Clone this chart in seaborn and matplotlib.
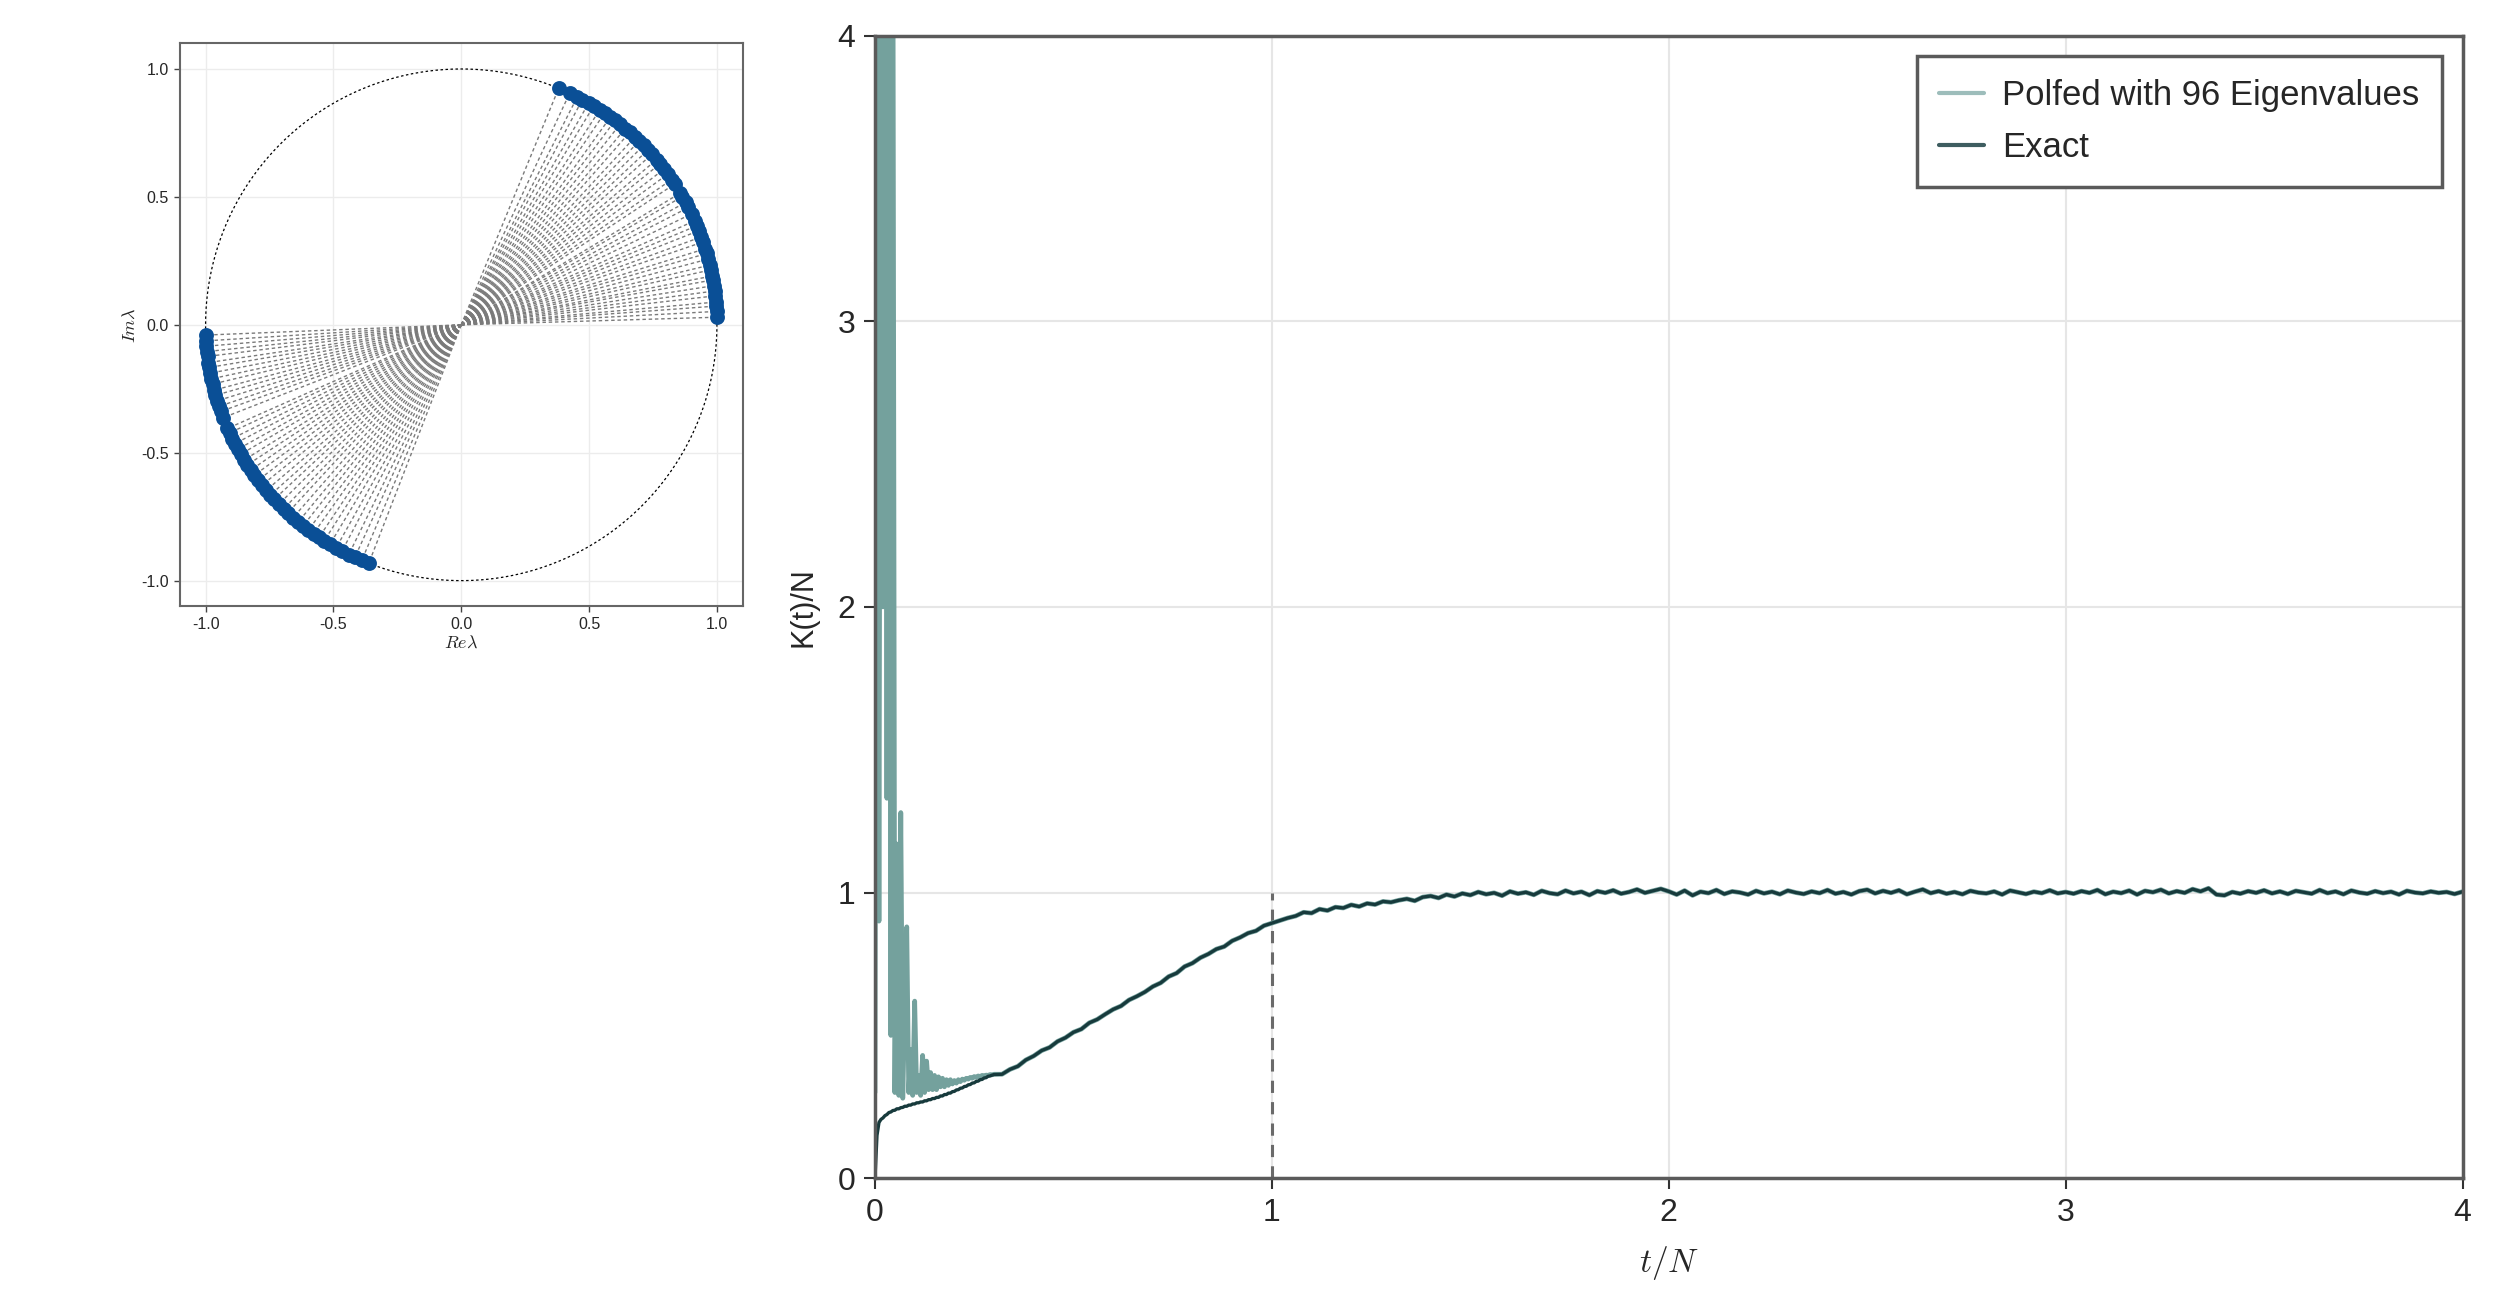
import numpy as np
import pandas as pd
import seaborn as sns
import matplotlib.pyplot as plt

# eigenvalue phases (degrees)
upper_angles = [1.7, 3.0, 4.2, 5.1, 6.5, 7.6, 8.8, 10.1, 11.0, 12.4, 13.5, 14.9,
                16.2, 17.3, 18.9, 20.1, 21.6, 22.8, 24.0, 25.7, 27.3, 28.6, 30.1, 31.0,
                33.4, 34.6, 36.1, 37.5, 39.0, 40.2, 41.8, 43.1, 44.5, 45.9, 47.2, 48.8,
                50.1, 51.6, 53.0, 54.3, 55.9, 57.2, 58.8, 60.1, 61.7, 63.0, 64.9, 67.6]
lower_angles = [182.3, 183.6, 184.8, 186.0, 187.1, 188.5, 189.6, 190.9, 192.2, 193.4,
                194.8, 196.0, 197.3, 198.6, 199.8, 201.3, 203.9, 205.0, 206.4, 207.7,
                209.1, 210.4, 211.9, 213.2, 214.6, 216.0, 217.4, 218.8, 220.3, 221.7,
                223.0, 224.5, 226.0, 227.3, 228.9, 230.4, 231.8, 233.3, 234.7, 236.2,
                237.6, 239.1, 240.7, 242.2, 243.9, 245.4, 247.1, 248.8]

# K(t)/N, early part sampled every 0.005 on t/N in [0, 0.3]
early_range = (0.0, 0.3)
polfed_early = [0.30, 4.60, 0.90, 4.60, 2.00, 4.60, 1.33, 4.60, 0.50, 4.60,
                0.30, 1.17, 0.29, 1.28, 0.28, 0.60, 0.88, 0.30, 0.45, 0.29,
                0.62, 0.30, 0.36, 0.29, 0.43, 0.30, 0.41, 0.31, 0.37, 0.31,
                0.36, 0.31, 0.355, 0.32, 0.35, 0.32, 0.345, 0.325, 0.345, 0.33,
                0.342, 0.333, 0.345, 0.338, 0.347, 0.343, 0.350, 0.347, 0.353, 0.350,
                0.356, 0.353, 0.358, 0.356, 0.360, 0.358, 0.361, 0.360, 0.363, 0.362,
                0.364]
exact_early = [0.000, 0.150, 0.195, 0.206, 0.211, 0.219, 0.223, 0.230, 0.232, 0.237,
               0.238, 0.243, 0.243, 0.247, 0.248, 0.252, 0.252, 0.256, 0.256, 0.260,
               0.260, 0.264, 0.264, 0.267, 0.267, 0.271, 0.271, 0.275, 0.275, 0.279,
               0.279, 0.283, 0.283, 0.288, 0.288, 0.293, 0.293, 0.298, 0.298, 0.303,
               0.304, 0.309, 0.310, 0.315, 0.316, 0.321, 0.322, 0.327, 0.328, 0.333,
               0.334, 0.339, 0.340, 0.345, 0.346, 0.351, 0.352, 0.357, 0.358, 0.361,
               0.363]

# later part, sampled every 0.02 on t/N in [0.32, 4]
tail_range = (0.32, 4.0)
k_tail = [0.364, 0.381, 0.392, 0.414, 0.428, 0.447, 0.458, 0.479, 0.492, 0.511,
          0.522, 0.544, 0.556, 0.574, 0.591, 0.603, 0.624, 0.637, 0.652, 0.671,
          0.684, 0.706, 0.718, 0.741, 0.753, 0.772, 0.785, 0.802, 0.811, 0.831,
          0.843, 0.858, 0.866, 0.884, 0.893, 0.902, 0.911, 0.918, 0.931, 0.928,
          0.942, 0.937, 0.949, 0.946, 0.957, 0.951, 0.962, 0.958, 0.969, 0.966,
          0.973, 0.978, 0.971, 0.984, 0.988, 0.981, 0.993, 0.986, 0.997, 0.991,
          1.002, 0.994, 0.999, 0.989, 1.004, 0.996, 1.001, 0.992, 1.006, 0.998,
          0.994, 1.007, 0.997, 1.003, 0.991, 1.005, 0.999, 1.008, 0.996, 1.002,
          1.011, 0.999, 1.006, 1.013, 1.004, 0.993, 1.007, 0.990, 1.003, 0.998,
          1.009, 0.995, 1.004, 1.000, 0.993, 1.006, 0.997, 1.003, 0.994, 1.007,
          1.000, 0.995, 1.004, 0.998, 1.009, 0.996, 1.002, 0.993, 1.005, 1.010,
          0.997, 1.006, 0.999, 1.008, 0.994, 1.003, 1.011, 0.998, 1.005, 0.996,
          1.002, 0.994, 1.006, 1.000, 0.997, 1.004, 0.993, 1.007, 1.001, 0.995,
          1.003, 0.998, 1.008, 0.997, 1.002, 0.996, 1.005, 0.999, 1.009, 0.994,
          1.003, 0.998, 1.007, 0.993, 1.006, 1.001, 1.010, 0.997, 1.005, 0.999,
          1.012, 1.004, 1.015, 0.993, 0.990, 1.002, 0.996, 1.005, 0.999, 1.008,
          0.997, 1.004, 0.995, 1.006, 1.001, 0.996, 1.009, 0.998, 1.004, 0.994,
          1.007, 1.000, 0.996, 1.005, 0.998, 1.003, 0.993, 1.006, 1.000, 0.997,
          1.004, 0.999, 1.002, 0.995, 1.003]

t_marker = 1.0  # dashed guide at t/N = 1
labels = ["Polfed with 96 Eigenvalues", "Exact"]
c_polfed = "#74a19d"
c_exact = "#173a3c"
c_eig = "#0a4f96"

sns.set_theme(style="whitegrid")
plt.rcParams["font.family"] = ["Liberation Sans", "DejaVu Sans"]
plt.rcParams["mathtext.fontset"] = "cm"
plt.rcParams["axes.unicode_minus"] = False

t_early = np.linspace(*early_range, len(exact_early))
t_tail = np.linspace(*tail_range, len(k_tail))
df = pd.concat([
    pd.DataFrame({"t": np.concatenate([t_early, t_tail]),
                  "K": np.concatenate([polfed_early, k_tail]), "src": labels[0]}),
    pd.DataFrame({"t": np.concatenate([t_early, t_tail]),
                  "K": np.concatenate([exact_early, k_tail]), "src": labels[1]}),
])

ang = np.deg2rad(np.array(upper_angles + lower_angles))
eig = pd.DataFrame({"re": np.cos(ang), "im": np.sin(ang)})

fig = plt.figure(figsize=(25, 13.15), dpi=100)

# ---- left panel: eigenvalues on the unit circle
ax1 = fig.add_axes([0.072, 0.539, 0.225, 0.428])
phi = np.linspace(0, 2 * np.pi, 400)
ax1.plot(np.cos(phi), np.sin(phi), ls=(0, (2, 2)), color="black", lw=0.9, zorder=2)
for re, im in zip(eig["re"], eig["im"]):
    ax1.plot([0, re], [0, im], ls=(0, (2.5, 2)), color="#7a7a7a", lw=1.0, zorder=1)
sns.scatterplot(data=eig, x="re", y="im", ax=ax1, color=c_eig, s=115,
                edgecolor=c_eig, linewidth=0, zorder=3)
ax1.set_xlim(-1.1, 1.1)
ax1.set_ylim(-1.1, 1.1)
ax1.set_xticks([-1.0, -0.5, 0.0, 0.5, 1.0])
ax1.set_yticks([-1.0, -0.5, 0.0, 0.5, 1.0])
ax1.set_xlabel(r"$Re\lambda$", fontsize=13, labelpad=2)
ax1.set_ylabel(r"$Im\lambda$", fontsize=13, labelpad=2)
ax1.tick_params(labelsize=11.5, length=4, width=1, color="#444444", pad=4,
                bottom=True, left=True)
ax1.grid(color="#ececec", lw=1)
for sp in ax1.spines.values():
    sp.set_color("#666666")
    sp.set_linewidth(1.5)

# ---- right panel: spectral form factor
ax2 = fig.add_axes([0.35, 0.104, 0.635, 0.869])
sns.lineplot(data=df, x="t", y="K", hue="src", ax=ax2,
             palette={labels[0]: c_polfed, labels[1]: c_exact},
             estimator=None, sort=False, lw=3.4)
ax2.lines[1].set_linewidth(2.4)
ax2.vlines(t_marker, 0, 1, colors="#6a6a6a", linestyles=(0, (4, 3)), lw=2.2, zorder=1.5)
ax2.set_xlim(0, 4)
ax2.set_ylim(0, 4)
ax2.set_xticks([0, 1, 2, 3, 4])
ax2.set_yticks([0, 1, 2, 3, 4])
ax2.set_xlabel(r"$t/N$", fontsize=24, labelpad=12)
ax2.set_ylabel("K(t)/N", fontsize=22, labelpad=14)
ax2.tick_params(labelsize=23, length=8, width=1.5, color="#333333", pad=6,
                bottom=True, left=True)
ax2.grid(color="#e6e6e6", lw=1.5)
for sp in ax2.spines.values():
    sp.set_color("#5a5a5a")
    sp.set_linewidth(2.5)

leg = ax2.legend(loc="upper right", fontsize=25, frameon=True, fancybox=False,
                 framealpha=1, edgecolor="#5a5a5a", borderaxespad=0.6,
                 handlelength=1.3, handletextpad=0.5, borderpad=0.65,
                 labelspacing=0.55)
leg.get_frame().set_linewidth(2.5)
leg.get_lines()[0].set_color("#9dbdbb")
leg.get_lines()[1].set_color("#3e5d60")
for ln in leg.get_lines():
    ln.set_linewidth(3)

fig.savefig("out.png", dpi=100, facecolor="white")
